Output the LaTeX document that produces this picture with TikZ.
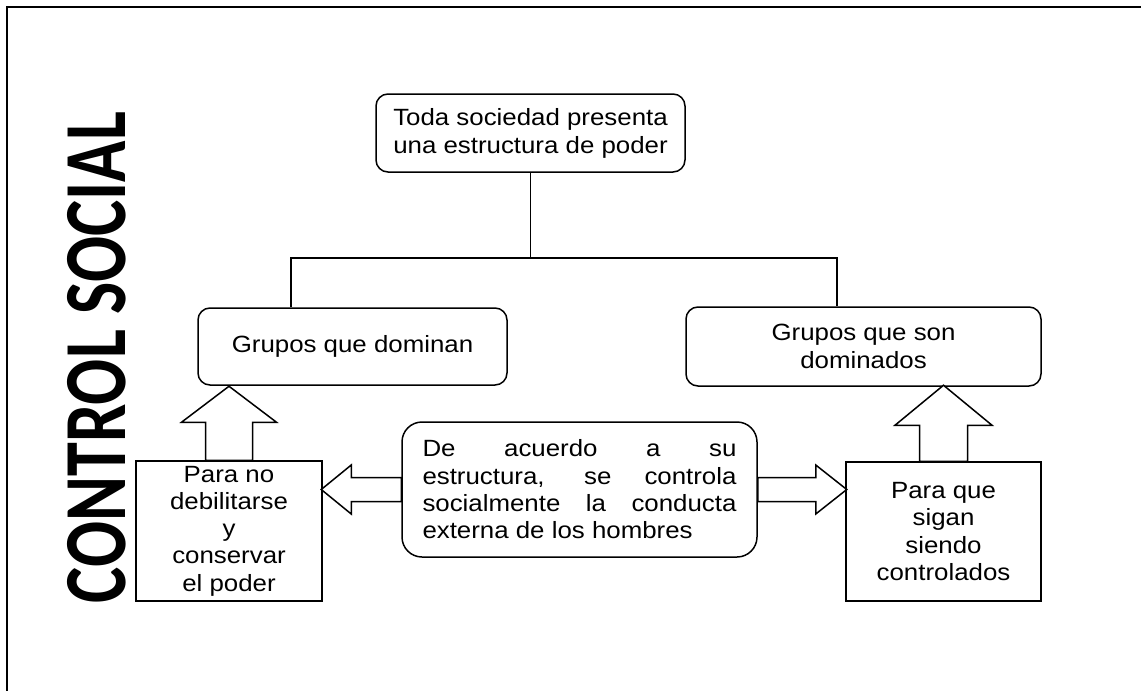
\documentclass[tikz,border=0pt]{standalone}
\usepackage{fontspec}
\setmainfont{Liberation Sans}[FakeStretch=1.1]
\newfontfamily\titlefont{Carlito}[FakeStretch=0.77]
\begin{document}
\begin{tikzpicture}[x=0.5pt,y=-0.5pt,line width=0.75pt,
  caja/.style={draw,rounded corners=6pt,align=center,inner sep=0pt,font=\fontsize{11.75}{14}\selectfont},
  cuadro/.style={draw,align=center,inner sep=0pt,font=\fontsize{11.75}{13.6}\selectfont},
  flecha/.style={draw,fill=white}]
\useasboundingbox (0,0) rectangle (1141,691);
\draw[line width=1pt](7,691)--(7,7)--(1141,7);
\node[rotate=90,font=\titlefont\bfseries\fontsize{44.3}{44.3}\selectfont] (titulo) at (96.5,357.5) {CONTROL SOCIAL};
\node[caja,minimum width=154.5pt,minimum height=39pt] (top) at (530.5,133) {Toda sociedad presenta\\una estructura de poder};
\node[caja,minimum width=154.5pt,minimum height=38.5pt] (dom) at (352.5,346.5) {Grupos que dominan};
\node[caja,minimum width=177.5pt,minimum height=39.5pt] (sub) at (863.5,346.5) {Grupos que son\\dominados};
\node[caja,rounded corners=10pt,minimum width=177.5pt,minimum height=67.5pt,text width=157pt,align=justify,font=\fontsize{11.75}{13.65}\selectfont] (mid) at (579.5,489.5)
  {De acuerdo a su\linebreak estructura, se controla\linebreak socialmente la conducta\linebreak externa de los hombres};
\node[cuadro,minimum width=93pt,minimum height=70pt] (pa) at (229,531) {Para no\\debilitarse\\y\\conservar\\el poder};
\node[cuadro,minimum width=97.5pt,minimum height=69.5pt] (pb) at (943.5,531.5) {Para que\\sigan\\siendo\\controlados};
% arbol
\coordinate (jl) at (291,258);
\coordinate (jr) at (837,258);
\draw(top.south)--(top.south|-jl);
\draw(dom.north-|jl)--(jl)--(jr)--(sub.north-|jr);
% flechas
\draw[flecha](pa.north)++(23.5,0)--++(0,-38)--++(24,0)--++(-47.5,-36)--++(-47.5,36)--++(24,0)--++(0,38)--cycle;
\draw[flecha](pb.north)++(24,0)--++(0,-36)--++(24.5,0)--++(-48.5,-40)--++(-48.5,40)--++(24.5,0)--++(0,36)--cycle;
\draw[flecha](mid.west)++(0,-12)--++(-50,0)--++(0,-12.5)--++(-30,24.5)--++(30,24.5)--++(0,-12.5)--++(50,0)--cycle;
\draw[flecha](mid.east)++(0,-12)--++(58,0)--++(0,-12.5)--++(31,24.5)--++(-31,24.5)--++(0,-12.5)--++(-58,0)--cycle;
\end{tikzpicture}
\end{document}
